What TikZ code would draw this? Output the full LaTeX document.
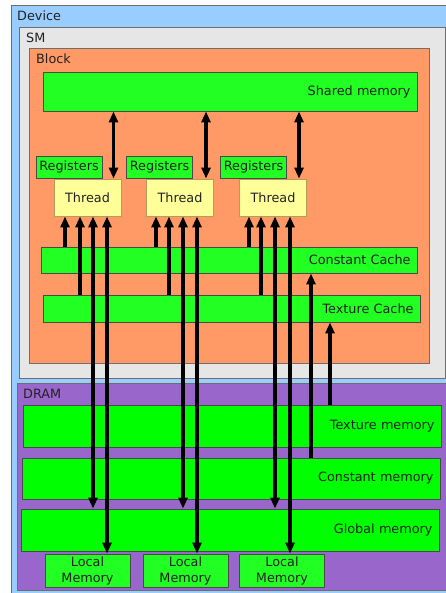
\documentclass[tikz,border=0pt]{standalone}
\usepackage{fontspec}
\setmainfont{DejaVu Sans}
\usepackage{xcolor}
\usetikzlibrary{arrows.meta}

\definecolor{devblue}{HTML}{99CCFF}
\definecolor{smgray}{HTML}{E6E6E6}
\definecolor{blockorange}{HTML}{FF9966}
\definecolor{cachegreen}{HTML}{22FF22}
\definecolor{memgreen}{HTML}{00FF00}
\definecolor{threadyellow}{HTML}{FFFF99}
\definecolor{dramviolet}{HTML}{9966CC}
\definecolor{edge}{HTML}{4A4A4A}
\definecolor{threadedge}{HTML}{B89A5A}
\definecolor{txt}{HTML}{222222}

\begin{document}
\begin{tikzpicture}[
  x=1pt, y=-1pt,
  every node/.style={font=\fontsize{12.8}{16}\selectfont, text=txt},
  area/.style={draw=edge!80, line width=0.9pt},
  lbl/.style={anchor=base west, inner sep=0pt},
  mem/.style={draw=edge, line width=0.9pt, inner xsep=6.5pt, inner ysep=0pt, align=right},
  thrd/.style={draw=threadedge, fill=threadyellow, line width=0.9pt, minimum width=67pt, minimum height=37pt, inner sep=0pt},
  reg/.style={draw=edge, fill=cachegreen, line width=0.9pt, minimum width=66pt, minimum height=22pt, inner sep=0pt},
  locmem/.style={draw=edge, fill=cachegreen, line width=0.9pt, minimum width=85pt, minimum height=33pt, inner sep=0pt, align=center},
  arr/.style={-{Triangle[length=11pt,width=9pt]}, line width=3.5pt},
  darr/.style={{Triangle[length=11pt,width=9pt]}-{Triangle[length=11pt,width=9pt]}, line width=3.5pt}
]
\useasboundingbox (0,0) rectangle (446,593);

% containers
\filldraw[area, fill=devblue] (11,5) rectangle (470,600);
\node[lbl] (devlbl) at (17,21) {Device};
\filldraw[area, fill=smgray] (19,27) rectangle (445,378);
\node[lbl] (smlbl) at (26,43) {SM};
\filldraw[area, fill=blockorange] (29,48) rectangle (429,363);
\node[lbl] (blklbl) at (36,64) {Block};
\filldraw[area, fill=dramviolet] (17,383) rectangle (470,590);
\node[lbl] (dramlbl) at (23,398) {DRAM};

% on-chip memories
\node[mem, fill=cachegreen, minimum height=39pt, text width=361pt] (shm) at (230,91.5) {Shared memory};
\node[mem, fill=cachegreen, minimum height=26pt, text width=363pt] (cc) at (229,260) {Constant Cache};
\node[mem, fill=cachegreen, minimum height=27pt, text width=364pt] (tc) at (231.5,308.5) {Texture Cache};

% threads and registers
\node[thrd] (th1) at (87.5,197.5) {Thread};
\node[thrd] (th2) at (180,197.5) {Thread};
\node[thrd] (th3) at (273,197.5) {Thread};
\node[reg, anchor=south west] (reg1) at ([xshift=-18pt]th1.north west) {Registers};
\node[reg, anchor=south west] (reg2) at ([xshift=-20pt]th2.north west) {Registers};
\node[reg, anchor=south west] (reg3) at ([xshift=-19pt]th3.north west) {Registers};

% device memories
\node[mem, fill=memgreen, minimum height=42pt, text width=405pt] (tm) at (232,426) {Texture memory};
\node[mem, fill=memgreen, minimum height=41pt, text width=405pt] (cm) at (231,478.5) {Constant memory};
\node[mem, fill=memgreen, minimum height=42pt, text width=405pt] (gm) at (230,530) {Global memory};
\node[locmem] (lm1) at (87.5,570.5) {Local\\Memory};
\node[locmem] (lm2) at (185.5,570.5) {Local\\Memory};
\node[locmem] (lm3) at (282,570.5) {Local\\Memory};

% connectors
\foreach \t/\a/\b/\c/\d in {1/-22.5/-7.5/5.5/19.5, 2/-24/-11/3/17, 3/-24/-12/2/17} {
  \draw[darr] ([xshift=26pt]th\t.north |- shm.south) -- ([xshift=26pt]th\t.north);
  \draw[arr] ([xshift=\a pt]th\t.south |- cc.north) -- ([xshift=\a pt]th\t.south);
  \draw[arr] ([xshift=\b pt]th\t.south |- tc.north) -- ([xshift=\b pt]th\t.south);
  \draw[darr] ([xshift=\c pt]th\t.south) -- ([xshift=\c pt]th\t.south |- gm.north);
  \draw[darr] ([xshift=\d pt]th\t.south) -- ([xshift=\d pt]th\t.south |- lm\t.north);
}
\draw[arr] ([xshift=82pt]cc.south |- cm.north) -- ([xshift=82pt]cc.south);
\draw[arr] ([xshift=98.5pt]tc.south |- tm.north) -- ([xshift=98.5pt]tc.south);
\end{tikzpicture}
\end{document}
